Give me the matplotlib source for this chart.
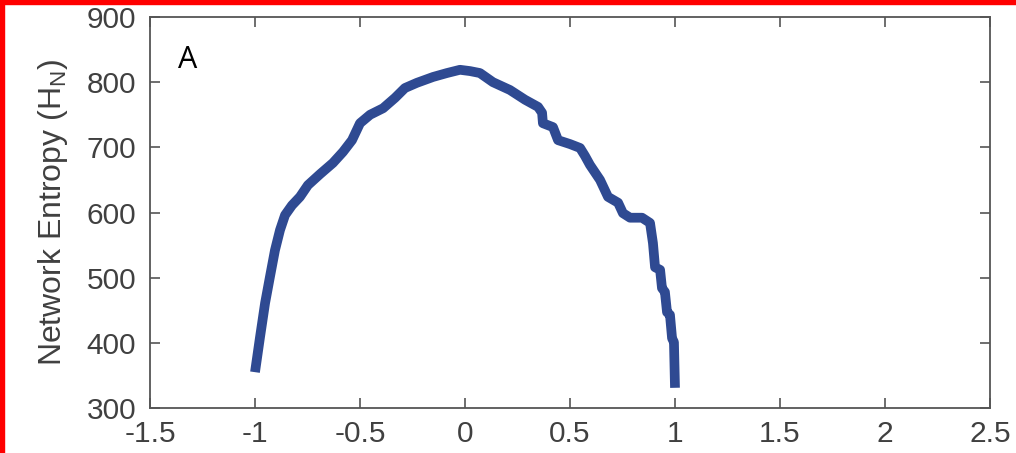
import numpy as np
import matplotlib.pyplot as plt
from matplotlib.patches import Rectangle

plt.rcParams['font.family'] = ['Liberation Sans', 'DejaVu Sans']

# curve
x = [-1.000, -0.976, -0.952, -0.929, -0.905, -0.881, -0.857, -0.824, -0.786, -0.748,
     -0.690, -0.629, -0.581, -0.538, -0.500, -0.452, -0.390, -0.333, -0.286, -0.229,
     -0.152, -0.086, -0.024, 0.024, 0.071, 0.133, 0.214, 0.286, 0.348, 0.367,
     0.371, 0.419, 0.443, 0.500, 0.548, 0.571, 0.595, 0.643, 0.681, 0.729,
     0.752, 0.786, 0.843, 0.881, 0.895, 0.905, 0.929, 0.938, 0.952, 0.962,
     0.976, 0.986, 0.995, 1.000]
y = [355, 409, 461, 501, 542, 573, 596, 611, 624, 642,
     659, 676, 693, 711, 737, 750, 760, 776, 791, 799,
     808, 814, 819, 817, 814, 800, 788, 773, 762, 753,
     737, 731, 711, 705, 699, 687, 673, 650, 624, 615,
     599, 592, 592, 584, 553, 516, 512, 484, 478, 447,
     443, 407, 401, 331]

xticks = [-1.5, -1, -0.5, 0, 0.5, 1, 1.5, 2, 2.5]
xticklabels = ['-1.5', '-1', '-0.5', '0', '0.5', '1', '1.5', '2', '2.5']
yticks = [300, 400, 500, 600, 700, 800, 900]

fig = plt.figure(figsize=(10.16, 4.53), dpi=100)
ax = fig.add_axes([150/1016, 1-408/453, 840/1016, 391/453])

ax.plot(x, y, color='#2f4a92', lw=7, solid_capstyle='butt', solid_joinstyle='round')

ax.set_xlim(-1.5, 2.5)
ax.set_ylim(300, 900)
ax.set_xticks(xticks)
ax.set_xticklabels(xticklabels)
ax.set_yticks(yticks)
ax.tick_params(direction='in', length=7, width=1.2, color='#555555',
               labelsize=21.5, labelcolor='#404040', top=True, right=True)
ax.tick_params(axis='x', pad=9)
ax.tick_params(axis='y', pad=10)
for s in ax.spines.values():
    s.set_color('#555555')
    s.set_linewidth(1.3)

ax.set_ylabel('Network Entropy (H$_\\mathregular{N}$)', fontsize=23, color='#404040', labelpad=12)
ax.text(0.033, 0.87, 'A', transform=ax.transAxes, fontsize=22, color='black',
        family=['Open Sans', 'DejaVu Sans'])

# red frame on top and left edges
fig.patches.append(Rectangle((0, 1-4/453), 1, 4/453, transform=fig.transFigure, color='red'))
fig.patches.append(Rectangle((0, 0), 4/1016, 1, transform=fig.transFigure, color='red'))

fig.savefig('out.png', dpi=100)
